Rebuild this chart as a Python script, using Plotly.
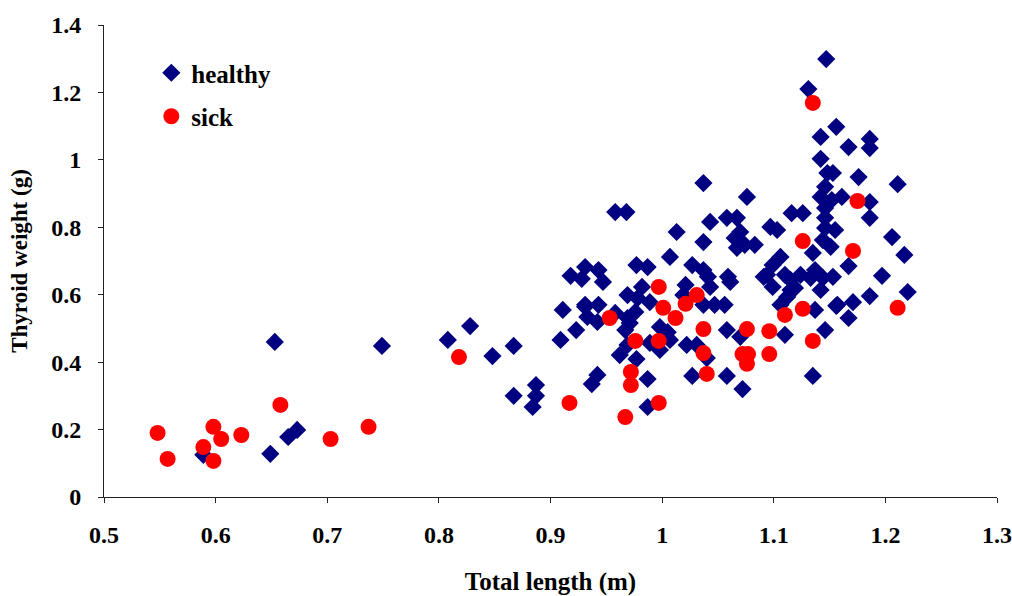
import plotly.graph_objects as go

# Healthy fish: total length (m) and thyroid weight (g)
healthy_x = [0.589, 0.649, 0.665, 0.673, 0.653, 0.749, 0.808, 0.828, 0.848, 0.867,
             0.867, 0.887, 0.887, 0.884, 0.911, 0.909, 0.923, 0.931, 0.937, 0.942,
             0.958, 0.968, 1.043, 1.013, 1.037, 1.037, 1.007, 0.977, 0.987, 1.027,
             1.037, 0.918, 0.931, 0.943, 0.928, 0.947, 0.982, 0.969, 1.021, 1.019,
             0.989, 0.978, 0.931, 0.943, 0.933, 0.942, 0.958, 0.969, 0.976, 0.971,
             0.998, 1.005, 0.967, 1.007, 0.989, 1.022, 1.031, 0.969, 0.962, 0.998,
             0.977, 1.040, 0.987, 1.027, 0.987, 1.142, 1.148, 1.076, 1.058, 1.067,
             1.097, 1.103, 1.116, 1.126, 1.070, 1.065, 1.074, 1.083, 1.067, 1.106,
             1.099, 1.094, 1.041, 1.043, 1.059, 1.061, 1.091, 1.110, 1.115, 1.115,
             1.124, 1.133, 1.144, 1.153, 1.142, 1.112, 1.037, 1.047, 1.056, 1.106,
             1.137, 1.157, 1.167, 1.058, 1.070, 1.110, 1.146, 1.058, 1.072, 1.135,
             1.099, 1.147, 1.131, 1.156, 1.142, 1.167, 1.186, 1.186, 1.153, 1.176,
             1.211, 1.146, 1.142, 1.161, 1.152, 1.186, 1.186, 1.146, 1.146, 1.155,
             1.206, 1.146, 1.217, 1.167, 1.197, 1.220, 1.186, 1.171, 1.156, 1.144,
             1.151, 1.135, 1.137, 1.119]
healthy_y = [0.125, 0.128, 0.178, 0.199, 0.460, 0.448, 0.466, 0.507, 0.418, 0.448,
             0.300, 0.332, 0.300, 0.267, 0.555, 0.466, 0.495, 0.564, 0.335, 0.362,
             0.845, 0.845, 0.816, 0.786, 0.756, 0.931, 0.712, 0.688, 0.682, 0.688,
             0.673, 0.656, 0.682, 0.673, 0.647, 0.638, 0.623, 0.599, 0.629, 0.599,
             0.578, 0.590, 0.570, 0.570, 0.534, 0.519, 0.546, 0.531, 0.549, 0.516,
             0.504, 0.489, 0.495, 0.466, 0.457, 0.451, 0.451, 0.451, 0.421, 0.436,
             0.409, 0.412, 0.350, 0.359, 0.267, 1.003, 0.961, 0.890, 0.828, 0.828,
             0.801, 0.792, 0.842, 0.842, 0.786, 0.768, 0.748, 0.748, 0.739, 0.712,
             0.688, 0.659, 0.653, 0.623, 0.653, 0.638, 0.653, 0.659, 0.644, 0.614,
             0.659, 0.650, 0.650, 0.653, 0.614, 0.593, 0.570, 0.570, 0.570, 0.570,
             0.555, 0.570, 0.531, 0.495, 0.475, 0.481, 0.495, 0.359, 0.320, 0.359,
             0.623, 1.299, 1.210, 1.098, 1.068, 1.038, 1.062, 1.035, 0.961, 0.949,
             0.928, 0.920, 0.890, 0.890, 0.881, 0.875, 0.828, 0.857, 0.828, 0.792,
             0.771, 0.798, 0.718, 0.685, 0.656, 0.608, 0.596, 0.578, 0.567, 0.762,
             0.742, 0.724, 0.673, 0.620]

# Sick fish
sick_x = [0.548, 0.557, 0.589, 0.598, 0.605, 0.598, 0.623, 0.658, 0.703, 0.737,
          0.818, 0.917, 0.997, 1.001, 0.953, 1.021, 1.031, 1.012, 0.976, 0.997,
          1.037, 1.037, 1.040, 0.972, 0.972, 0.997, 0.967, 1.126, 1.076, 1.096,
          1.110, 1.126, 1.135, 1.072, 1.077, 1.076, 1.096, 1.135, 1.175, 1.171,
          1.211]
sick_y = [0.190, 0.113, 0.148, 0.208, 0.172, 0.107, 0.184, 0.273, 0.172, 0.208,
          0.415, 0.279, 0.623, 0.561, 0.531, 0.573, 0.599, 0.531, 0.463, 0.463,
          0.498, 0.427, 0.365, 0.371, 0.332, 0.279, 0.237, 0.759, 0.498, 0.492,
          0.540, 0.558, 0.463, 0.424, 0.424, 0.395, 0.424, 1.169, 0.878, 0.730,
          0.561]

x_ticks = [0.5, 0.6, 0.7, 0.8, 0.9, 1.0, 1.1, 1.2, 1.3]
x_tick_labels = ["0.5", "0.6", "0.7", "0.8", "0.9", "1", "1.1", "1.2", "1.3"]
y_ticks = [0, 0.2, 0.4, 0.6, 0.8, 1.0, 1.2, 1.4]
y_tick_labels = ["0", "0.2", "0.4", "0.6", "0.8", "1", "1.2", "1.4"]

FONT = "Times New Roman, Liberation Serif, serif"

fig = go.Figure()
fig.add_trace(go.Scatter(
    x=healthy_x, y=healthy_y, mode="markers", name="healthy", legendgroup="h",
    marker=dict(symbol="diamond", size=14, color="#000080", line=dict(width=0)),
))
fig.add_trace(go.Scatter(
    x=sick_x, y=sick_y, mode="markers", name="sick", legendgroup="s",
    marker=dict(symbol="circle", size=16, color="#FF0000", line=dict(width=0)),
))

axis_common = dict(
    showgrid=False, zeroline=False, showline=True, linecolor="#222222", linewidth=1,
    ticks="outside", ticklen=5, tickcolor="#222222", tickwidth=1,
    tickfont=dict(family=FONT, size=24, color="black", weight="bold"),
    mirror=False, automargin=False,
)

fig.update_layout(
    width=1012, height=596,
    margin=dict(l=104, r=15, t=25, b=99),
    paper_bgcolor="white", plot_bgcolor="white",
    font=dict(family=FONT, color="black"),
    xaxis=dict(
        range=[0.5, 1.3], tickvals=x_ticks, ticktext=x_tick_labels,
        ticklabelstandoff=11,
        title=dict(text="Total length (m)", standoff=25,
                   font=dict(family=FONT, size=25, color="black", weight="bold")),
        **axis_common,
    ),
    yaxis=dict(
        range=[0, 1.4], tickvals=y_ticks, ticktext=y_tick_labels,
        ticklabelstandoff=12,
        title=dict(text="Thyroid weight (g)", standoff=17,
                   font=dict(family=FONT, size=23, color="black", weight="bold")),
        **axis_common,
    ),
    showlegend=True,
    legend=dict(
        x=0.053, y=0.947, xanchor="left", yanchor="top",
        bgcolor="rgba(0,0,0,0)", borderwidth=0,
        font=dict(family=FONT, size=25, color="black", weight="bold"),
        tracegroupgap=8,
    ),
)

fig.write_html("out.html")
